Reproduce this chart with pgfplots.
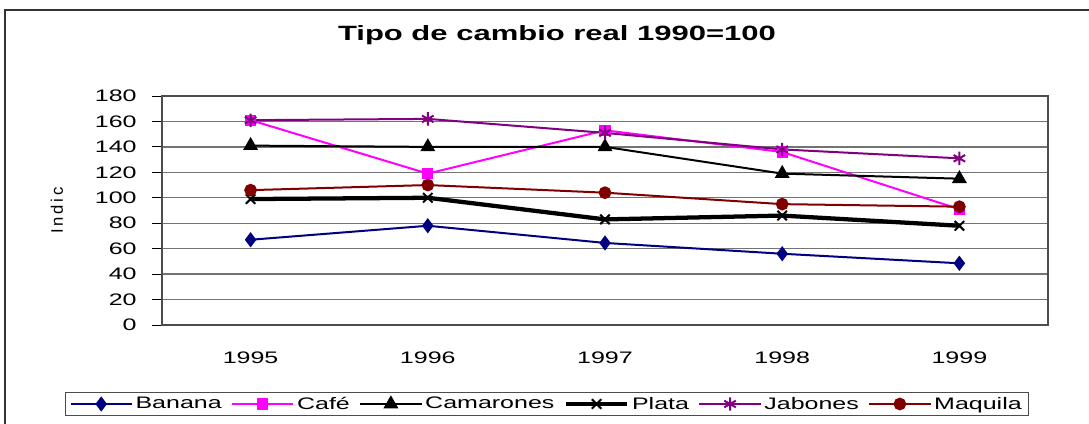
\documentclass[border=0pt]{standalone}
\usepackage{pgfplots}
\pgfplotsset{compat=1.18}
\usepackage{fontspec}
\setmainfont{Liberation Sans}[FakeStretch=1.5]
\newfontfamily\plainfont{Liberation Sans}
\definecolor{navyb}{RGB}{0,0,128}
\definecolor{mag}{RGB}{255,0,255}
\definecolor{purp}{RGB}{128,0,128}
\definecolor{dred}{RGB}{128,0,0}
\begin{document}
\begin{tikzpicture}
\useasboundingbox (-121.5pt,-74.25pt) rectangle (695.25pt,243.75pt);
\draw[line width=1pt, black!80] (-117.75pt,-90pt) -- (-117.75pt,236.25pt) -- (710pt,236.25pt);
\node[font=\bfseries\fontsize{15.5}{17}\selectfont] at (296.25pt,217.5pt) {Tipo de cambio real 1990=100};
\begin{axis}[
  at={(0,0)}, anchor=south west,
  scale only axis, width=664.5pt, height=171.75pt,
  xmin=-0.5, xmax=4.5, ymin=0, ymax=180,
  xtick={0,1,2,3,4}, xticklabels={1995,1996,1997,1998,1999},
  ytick={0,20,...,180},
  ymajorgrids, grid style={black!55, line width=1pt},
  axis line style={gray!80!black, line width=1pt},
  y axis line style={black!70},
  tick style={black, line width=0.6pt},
  xtick style={draw=none},
  ytick pos=left, tick align=outside, major tick length=7.5pt,
  tick label style={font=\fontsize{12.5}{14}\selectfont},
  xticklabel style={yshift=-9pt},
  yticklabel style={xshift=-8pt},
  /pgf/number format/assume math mode=true,
  ylabel={I\,n\,d\,i\,c},
  ylabel style={font=\plainfont\fontsize{12.5}{14}\selectfont, at={(axis description cs:-0.1185,0.5)}, anchor=center},
  legend style={at={(288.75pt,-59.25pt)}, anchor=center, legend columns=-1,
    font=\fontsize{12.5}{14}\selectfont, draw=black!70, line width=0.8pt,
    /tikz/every even column/.append style={column sep=5pt},
    inner xsep=3pt, inner ysep=1pt},
  legend image code/.code={\draw[mark repeat=2,mark phase=2] plot coordinates {(0pt,0pt) (23pt,0pt) (46pt,0pt)};},
]
\addplot[navyb, line width=1.5pt, mark=diamond*, mark size=4.5pt, mark options={solid}] coordinates {(0,67) (1,78) (2,64.5) (3,56) (4,48.5)};
\addlegendentry{Banana}
\addplot[mag, line width=1.5pt, mark=square*, mark size=3.5pt] coordinates {(0,161) (1,119) (2,153) (3,136) (4,91)};
\addlegendentry{Café}
\addplot[black, line width=1.5pt, mark=triangle*, mark size=5pt] coordinates {(0,141) (1,140) (2,140) (3,119) (4,115)};
\addlegendentry{Camarones}
\addplot[black, line width=3.2pt, mark=x, mark size=5pt, mark options={line width=1.5pt}] coordinates {(0,99) (1,100) (2,83) (3,86) (4,78)};
\addlegendentry{Plata}
\addplot[purp, line width=1.5pt, mark=asterisk, mark size=5pt, mark options={line width=1.5pt}] coordinates {(0,161) (1,162) (2,151) (3,138) (4,131)};
\addlegendentry{Jabones}
\addplot[dred, line width=1.5pt, mark=*, mark size=4pt] coordinates {(0,106) (1,110) (2,104) (3,95) (4,93)};
\addlegendentry{Maquila}
\end{axis}
\end{tikzpicture}
\end{document}
